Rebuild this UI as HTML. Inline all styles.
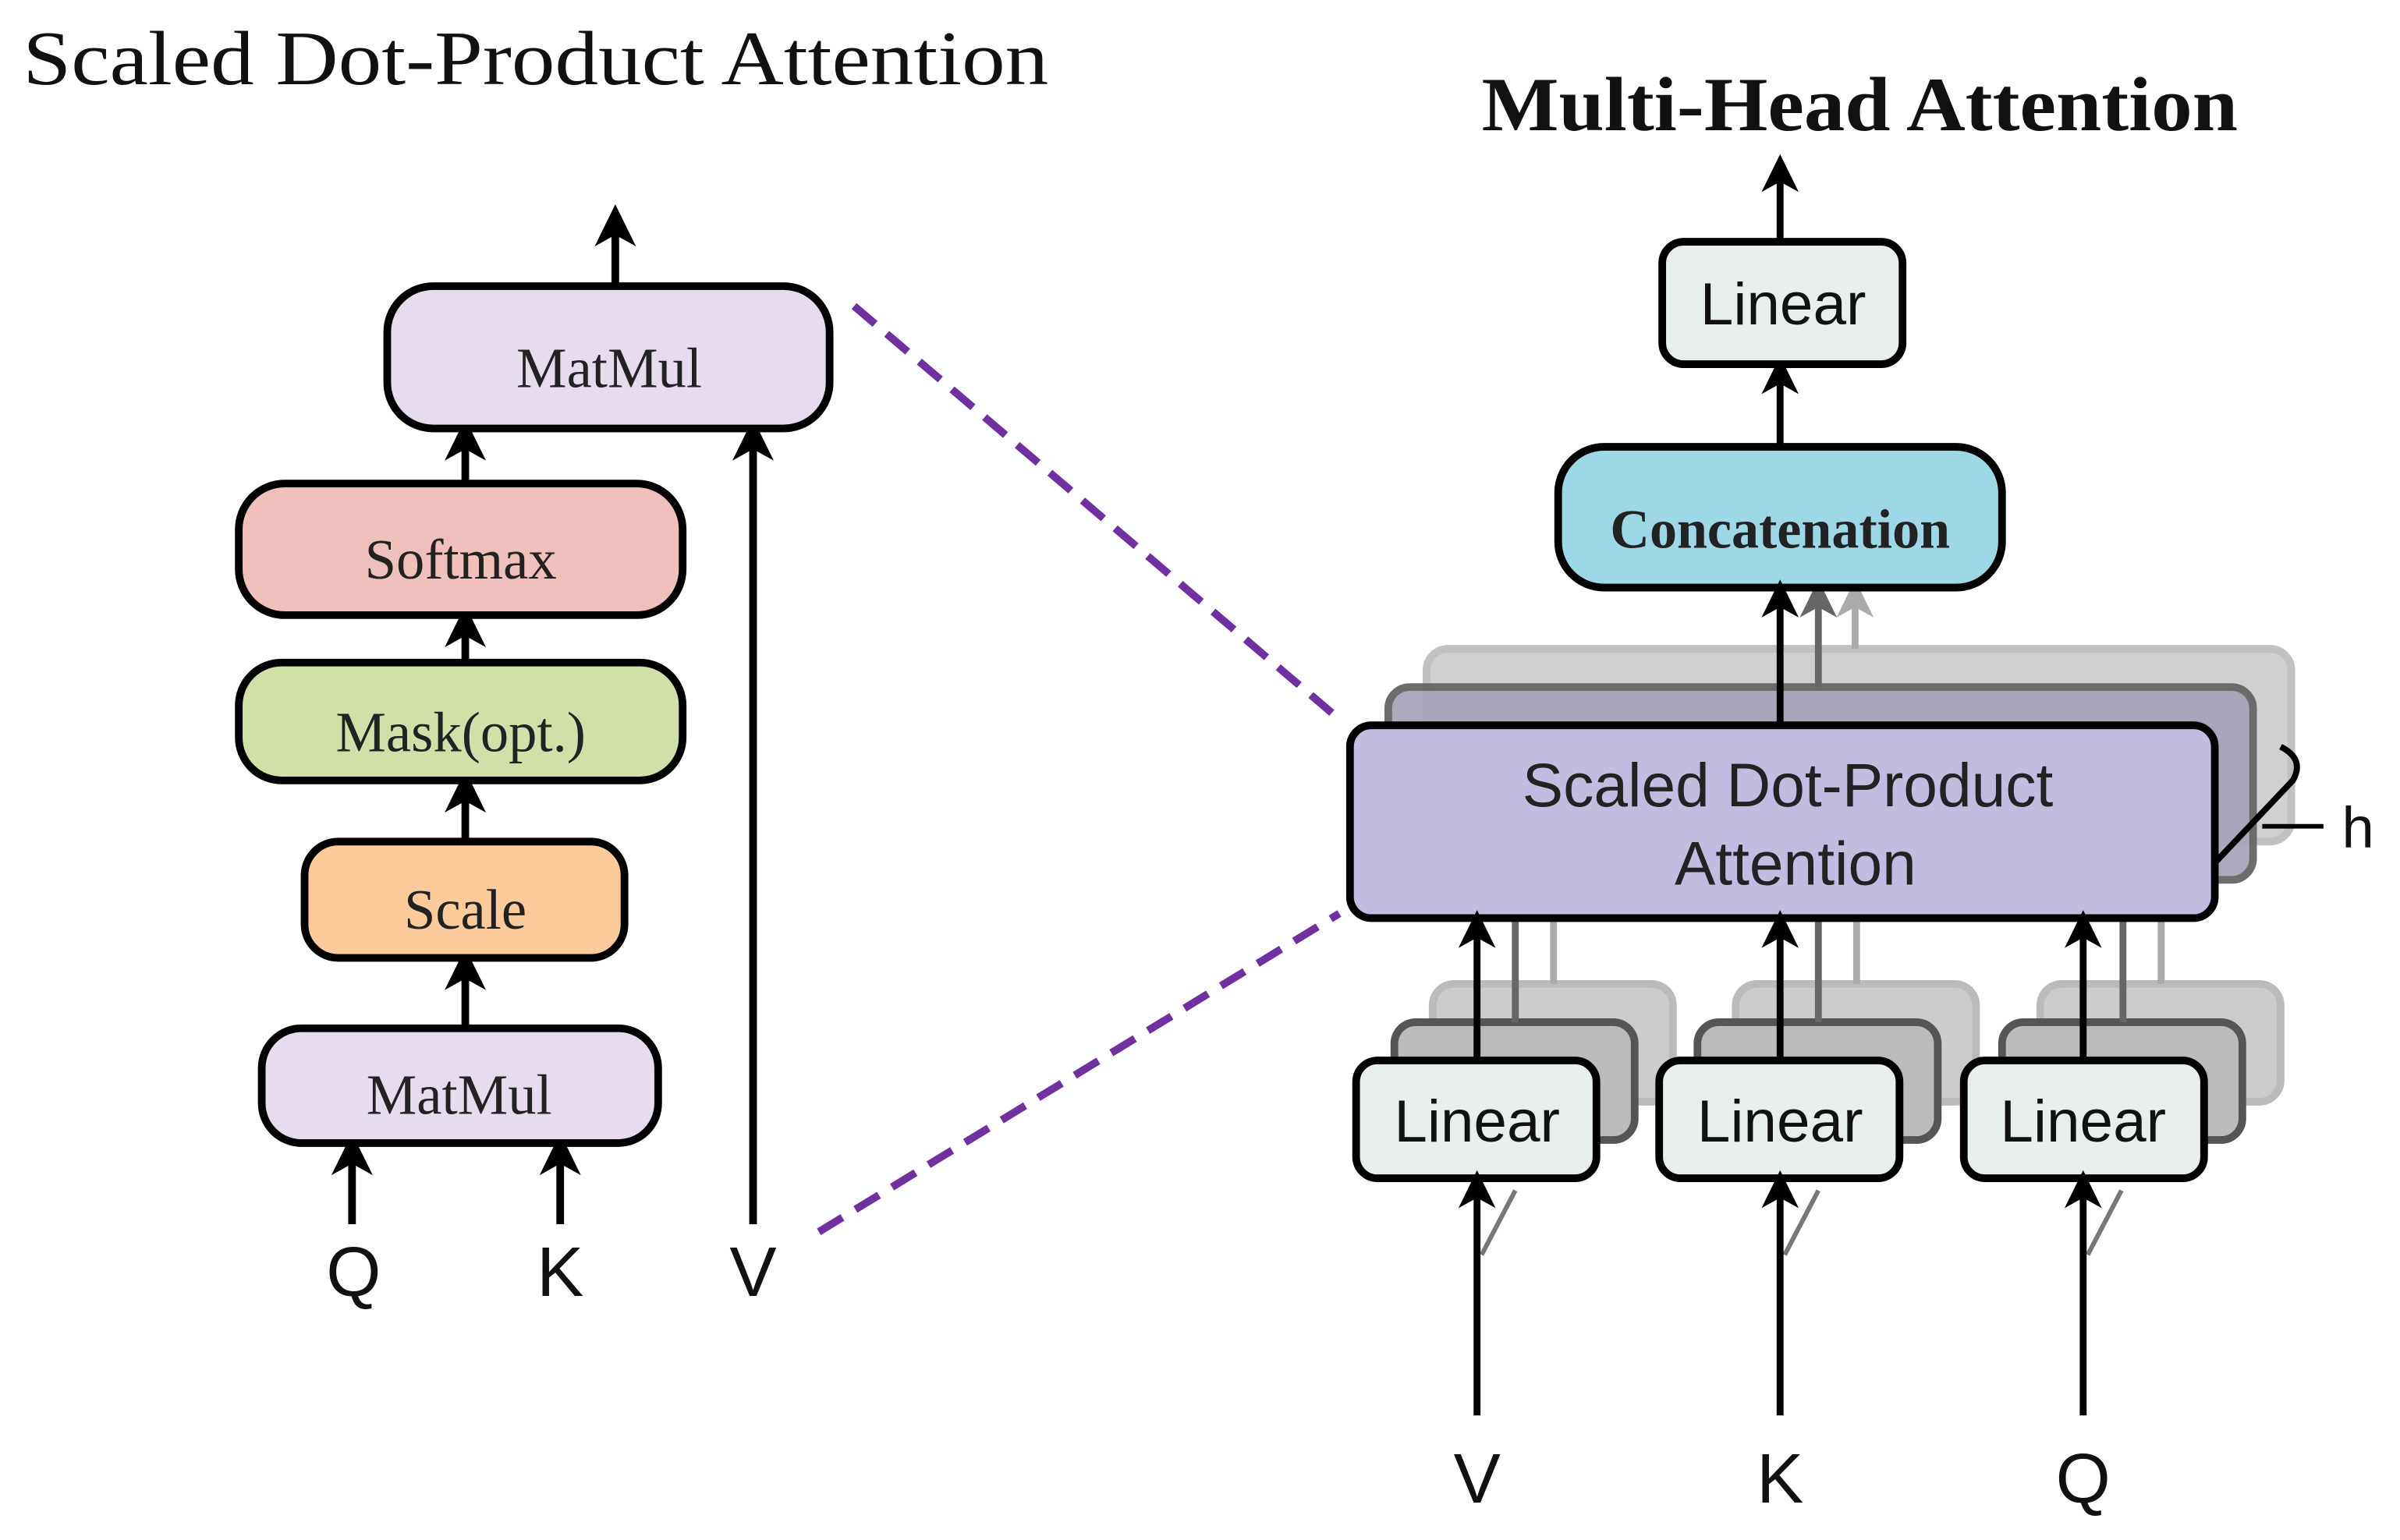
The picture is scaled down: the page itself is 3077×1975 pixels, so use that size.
<!DOCTYPE html>
<html><head><meta charset="utf-8"><style>html,body{margin:0;padding:0;background:#fff}svg{display:block}</style></head>
<body>
<svg width="3077" height="1975" viewBox="0 0 1568 1006.4" preserveAspectRatio="none" xmlns="http://www.w3.org/2000/svg">
<defs>
<marker id="a" markerWidth="6" markerHeight="6" refX="3" refY="3" orient="auto" markerUnits="strokeWidth"><path d="M0,0.3 L5.5,3 L0,5.7 L1.5,3 Z" fill="#000"/></marker>
<marker id="ag" markerWidth="6" markerHeight="6" refX="3" refY="3" orient="auto" markerUnits="strokeWidth"><path d="M0,0.3 L5.5,3 L0,5.7 L1.5,3 Z" fill="#666"/></marker>
<marker id="al" markerWidth="6" markerHeight="6" refX="3" refY="3" orient="auto" markerUnits="strokeWidth"><path d="M0,0.3 L5.5,3 L0,5.7 L1.5,3 Z" fill="#aaa"/></marker>
</defs>
<g font-family="Liberation Serif, serif" fill="#111">
<text x="15" y="55" font-size="50" textLength="670" lengthAdjust="spacingAndGlyphs">Scaled Dot-Product Attention</text>
<text x="968" y="85" font-size="50" font-weight="bold" textLength="494" lengthAdjust="spacingAndGlyphs">Multi-Head Attention</text>
</g>
<!-- left -->
<g stroke="#000" stroke-width="5" fill="none">
<line x1="402" y1="187" x2="402" y2="146" marker-end="url(#a)"/>
<line x1="304" y1="316" x2="304" y2="286" marker-end="url(#a)"/>
<line x1="304" y1="433" x2="304" y2="408" marker-end="url(#a)"/>
<line x1="304" y1="550" x2="304" y2="516" marker-end="url(#a)"/>
<line x1="304" y1="672" x2="304" y2="632" marker-end="url(#a)"/>
<line x1="230" y1="800" x2="230" y2="753" marker-end="url(#a)"/>
<line x1="366" y1="800" x2="366" y2="753" marker-end="url(#a)"/>
<line x1="492" y1="800" x2="492" y2="286" marker-end="url(#a)"/>
</g>
<g stroke="#000" stroke-width="5">
<rect x="253" y="187" width="289" height="93" rx="30" fill="#e6dcee"/>
<rect x="156" y="316" width="290" height="86" rx="30" fill="#efc0bc"/>
<rect x="156" y="433" width="290" height="77" rx="28" fill="#d0e0a8"/>
<rect x="199" y="550" width="209" height="76" rx="22" fill="#fccb9c"/>
<rect x="171" y="672" width="259" height="75" rx="26" fill="#e6dcee"/>
</g>
<g font-family="Liberation Serif, serif" font-size="37" fill="#222" text-anchor="middle">
<text x="398" y="253">MatMul</text>
<text x="301" y="378">Softmax</text>
<text x="301" y="491">Mask(opt.)</text>
<text x="304" y="607">Scale</text>
<text x="300" y="728">MatMul</text>
</g>
<g font-family="Liberation Sans, sans-serif" font-size="46" fill="#111" text-anchor="middle">
<text x="231" y="847">Q</text><text x="366" y="847">K</text><text x="492" y="847">V</text>
</g>
<g stroke="#7030a0" stroke-width="5" stroke-dasharray="18,10">
<line x1="558" y1="200" x2="875" y2="470"/>
<line x1="535" y1="805" x2="875" y2="597"/>
</g>
<!-- right -->
<g stroke-width="4.5">
<line x1="1163" y1="158" x2="1163" y2="112" stroke="#000" marker-end="url(#a)"/>
<line x1="1163" y1="292" x2="1163" y2="244" stroke="#000" marker-end="url(#a)"/>
</g>
<rect x="932" y="424" width="565" height="126" rx="14" fill="#ccc" stroke="#bbb" stroke-width="5" opacity="0.9"/>
<rect x="907" y="449" width="565" height="126" rx="14" fill="#a9a4b8" stroke="#666" stroke-width="5" opacity="0.95"/>
<line x1="1212" y1="424" x2="1212" y2="390" stroke="#aaa" stroke-width="4.5" marker-end="url(#al)"/>
<line x1="1188" y1="449" x2="1188" y2="390" stroke="#666" stroke-width="4.5" marker-end="url(#ag)"/>
<rect x="1018" y="292" width="290" height="92" rx="30" fill="#9ed8e6" stroke="#000" stroke-width="5"/>
<rect x="1086" y="158" width="157" height="80" rx="14" fill="#e8eeec" stroke="#000" stroke-width="5"/>
<line x1="1163" y1="474" x2="1163" y2="390" stroke="#000" stroke-width="4.5" marker-end="url(#a)"/>
<path d="M1490,488 Q1506,496 1498,510 L1445,566 Q1438,574 1425,568" fill="none" stroke="#000" stroke-width="4"/>
<line x1="1478" y1="540" x2="1518" y2="540" stroke="#000" stroke-width="3"/>
<text x="1530" y="554" font-family="Liberation Sans, sans-serif" font-size="38" fill="#111">h</text>
<g>
<g id="lin">
<rect x="936" y="643" width="157" height="77" rx="14" fill="#ccc" stroke="#bbb" stroke-width="5"/>
<rect x="911" y="668" width="157" height="77" rx="14" fill="#bbb" stroke="#555" stroke-width="5"/>
<line x1="1015" y1="643" x2="1015" y2="600" stroke="#aaa" stroke-width="4.5"/>
<line x1="990" y1="668" x2="990" y2="600" stroke="#666" stroke-width="4.5"/>
</g>
<use href="#lin" x="198"/>
<use href="#lin" x="397"/>
</g>
<rect x="882" y="474" width="565" height="126" rx="14" fill="#c4bce0" stroke="#000" stroke-width="5"/>
<text font-family="Liberation Sans, sans-serif" font-size="40" fill="#222" text-anchor="middle"><tspan x="1168" y="527">Scaled Dot-Product</tspan><tspan x="1173" y="578">Attention</tspan></text>
<g stroke="#000" stroke-width="4.5">
<line x1="965" y1="693" x2="965" y2="606" marker-end="url(#a)"/>
<line x1="1163" y1="693" x2="1163" y2="606" marker-end="url(#a)"/>
<line x1="1361" y1="693" x2="1361" y2="606" marker-end="url(#a)"/>
</g>
<g stroke="#000" stroke-width="5" fill="#e8eeec">
<rect x="886" y="693" width="157" height="77" rx="14"/>
<rect x="1084" y="693" width="157" height="77" rx="14"/>
<rect x="1283" y="693" width="157" height="77" rx="14"/>
</g>
<g font-family="Liberation Sans, sans-serif" font-size="39" fill="#111" text-anchor="middle">
<text x="965" y="746">Linear</text><text x="1163" y="746">Linear</text><text x="1361" y="746">Linear</text>
<text x="1165" y="212">Linear</text>
</g>
<text x="1163" y="358" font-family="Liberation Serif, serif" font-size="36" font-weight="bold" fill="#222" text-anchor="middle" textLength="222" lengthAdjust="spacingAndGlyphs">Concatenation</text>
<g stroke="#777" stroke-width="3">
<line x1="968" y1="820" x2="990" y2="778"/><line x1="1166" y1="820" x2="1188" y2="778"/><line x1="1364" y1="820" x2="1386" y2="778"/>
</g>
<g stroke="#000" stroke-width="4.5">
<line x1="965" y1="925" x2="965" y2="776" marker-end="url(#a)"/>
<line x1="1163" y1="925" x2="1163" y2="776" marker-end="url(#a)"/>
<line x1="1361" y1="925" x2="1361" y2="776" marker-end="url(#a)"/>
</g>
<g font-family="Liberation Sans, sans-serif" font-size="46" fill="#111" text-anchor="middle">
<text x="965" y="982">V</text><text x="1163" y="982">K</text><text x="1361" y="982">Q</text>
</g>
</svg>
</body></html>
